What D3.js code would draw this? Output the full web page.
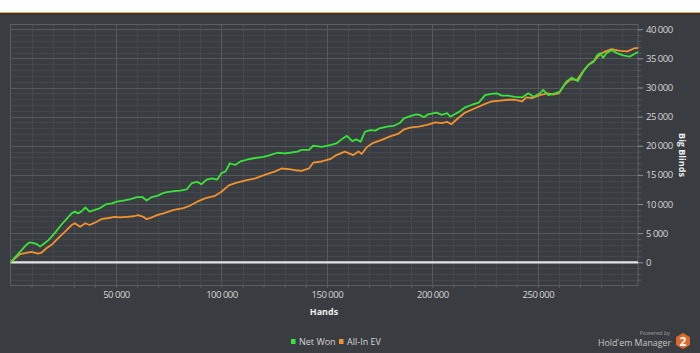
<!DOCTYPE html>
<html>
<head>
<meta charset="utf-8">
<script src="https://cdn.jsdelivr.net/npm/d3@7"></script>
<style>
  body { margin: 0; background: #ffffff; }
  svg { display: block; font-family: "Open Sans", sans-serif; }
</style>
</head>
<body>
<div id="container"></div>
<script>
// hands played / big blinds won
let netWonHands = [0, 4500, 7500, 9000, 11000, 12500, 14000, 15500, 18000, 21000, 24000, 26500, 29000, 30500, 32000, 33500, 35500, 37500, 40000, 42500, 45500, 48000, 50500, 53500, 56500, 60000, 62500, 64500, 67000, 69500, 72500, 75000, 77500, 80500, 83500, 86000, 88500, 90500, 93000, 95500, 98000, 100000, 102000, 104000, 106500, 109000, 112000, 116000, 120000, 123000, 126500, 130000, 132500, 136000, 138000, 141500, 143500, 147500, 151500, 154500, 157000, 159500, 162000, 164000, 166000, 168000, 170500, 173000, 175000, 178500, 181500, 184500, 186500, 189500, 192500, 194000, 196000, 198000, 202000, 204500, 207000, 208500, 211000, 213000, 215500, 218500, 222000, 225000, 228000, 230500, 233000, 236000, 239000, 242500, 245500, 248000, 251000, 252500, 255000, 258000, 260500, 263500, 266000, 267500, 269000, 271500, 274000, 276500, 278000, 279500, 281000, 282500, 285000, 287500, 290500, 293500, 296000, 297500];
let netWonBB = [0, 1800, 3000, 3400, 3300, 3100, 2700, 3100, 3800, 5000, 6400, 7400, 8400, 8700, 8400, 8700, 9400, 8700, 9000, 9300, 10000, 10100, 10400, 10600, 10800, 11200, 11200, 10600, 11200, 11400, 11900, 12100, 12200, 12300, 12500, 13600, 13800, 13400, 14200, 14400, 14200, 15300, 15600, 17000, 16700, 17300, 17600, 17900, 18100, 18400, 18800, 18700, 18800, 19000, 19300, 19300, 20000, 19800, 20100, 20400, 21100, 21700, 20800, 21100, 20700, 22400, 22700, 22600, 23000, 23300, 23400, 23900, 24700, 25100, 25400, 25300, 24900, 25400, 25700, 25300, 25600, 25000, 25500, 25900, 26600, 27000, 27400, 28700, 28900, 29000, 28600, 28600, 28400, 28300, 29000, 28400, 29000, 29600, 28700, 29000, 29300, 31000, 31700, 31400, 31100, 32700, 33900, 34400, 35500, 35900, 35100, 35900, 36400, 35900, 35500, 35300, 35800, 36100];

let allInHands = [0, 4500, 7500, 10000, 13000, 14500, 17000, 19500, 22500, 26000, 29000, 30500, 33000, 35500, 37500, 40000, 43000, 46500, 49500, 52000, 55000, 58500, 60500, 63000, 64500, 67000, 69500, 72500, 77500, 82000, 85000, 88500, 92500, 97000, 100000, 103500, 106500, 111000, 116000, 120500, 125500, 128500, 132000, 135000, 138000, 141500, 143500, 147500, 151500, 154500, 158500, 162500, 165000, 166500, 169000, 172000, 176000, 180000, 184000, 186500, 189500, 193500, 197500, 201500, 204500, 207000, 209000, 211500, 215500, 220000, 225000, 228000, 231000, 236000, 239000, 242500, 244500, 247500, 251000, 254500, 257500, 260000, 262500, 265500, 268500, 272500, 275000, 277000, 279500, 282000, 285000, 289000, 292500, 295500, 297500];
let allInBB = [0, 1400, 1600, 1800, 1500, 1600, 2400, 3000, 4100, 5300, 6400, 6700, 6100, 6700, 6400, 6800, 7400, 7600, 7800, 7700, 7800, 7900, 8100, 7800, 7400, 7700, 8100, 8400, 9000, 9300, 9700, 10400, 11000, 11400, 12100, 13200, 13600, 14000, 14400, 15000, 15600, 16100, 16000, 15800, 15700, 16100, 17100, 17300, 17700, 18400, 19000, 18400, 19000, 18600, 19800, 20500, 21000, 21600, 22100, 22800, 23100, 23300, 23600, 24000, 23900, 24100, 23700, 24500, 25700, 26400, 27200, 27600, 27700, 27900, 27900, 27600, 28300, 28200, 28700, 29000, 28800, 29000, 30400, 31400, 31300, 33300, 34200, 34700, 35700, 36200, 36600, 36300, 36200, 36700, 36800];

let xTicks = [50000, 100000, 150000, 200000, 250000];
let yTicks = [0, 5000, 10000, 15000, 20000, 25000, 30000, 35000, 40000];
let seriesNames = ["Net Won", "All-In EV"];
let seriesColors = ["#3ae33a", "#f2922e"];

let w = 700;
let h = 353;
let plotL = 10.5, plotR = 638, plotT = 24, plotB = 285;

let fmt = d3.formatLocale({decimal: ".", thousands: " ", grouping: [3], currency: ["", ""]}).format(",");

let viz = d3.select("#container")
  .append("svg")
    .attr("width", w)
    .attr("height", h)
;

// dark panel with orange top rule
viz.append("rect").attr("x", 0).attr("y", 12).attr("width", w).attr("height", h - 12).attr("fill", "#393c40");
viz.append("rect").attr("x", 0).attr("y", 12).attr("width", w).attr("height", 1.2).attr("fill", "#f0a14a");
viz.append("rect").attr("x", 0).attr("y", 13.2).attr("width", w).attr("height", 1.5).attr("fill", "#30353d");

let xScale = d3.scaleLinear().domain([0, 297500]).range([plotL, plotR]);
let yScale = d3.scaleLinear().domain([-3900, 40900]).range([plotB, plotT]);

// grid
let grid = viz.append("g");
grid.selectAll(".xminor").data(d3.range(10000, 297500, 10000)).enter()
  .append("line")
    .attr("x1", d => Math.round(xScale(d)) + 0.5).attr("x2", d => Math.round(xScale(d)) + 0.5)
    .attr("y1", plotT).attr("y2", plotB)
    .attr("stroke", "#45494e").attr("stroke-width", 1)
;
grid.selectAll(".yminor").data(d3.range(-3000, 41000, 1000)).enter()
  .append("line")
    .attr("x1", plotL).attr("x2", plotR)
    .attr("y1", d => Math.round(yScale(d)) + 0.5).attr("y2", d => Math.round(yScale(d)) + 0.5)
    .attr("stroke", "#43474c").attr("stroke-width", 1)
;
grid.selectAll(".xmajor").data(xTicks).enter()
  .append("line")
    .attr("x1", d => Math.round(xScale(d)) + 0.5).attr("x2", d => Math.round(xScale(d)) + 0.5)
    .attr("y1", plotT).attr("y2", plotB)
    .attr("stroke", "#55595e").attr("stroke-width", 1)
;
grid.selectAll(".ymajor").data(yTicks).enter()
  .append("line")
    .attr("x1", plotL).attr("x2", plotR)
    .attr("y1", d => Math.round(yScale(d)) + 0.5).attr("y2", d => Math.round(yScale(d)) + 0.5)
    .attr("stroke", "#55595e").attr("stroke-width", 1)
;
grid.append("rect")
    .attr("x", plotL).attr("y", plotT + 0.5)
    .attr("width", plotR - plotL).attr("height", plotB - plotT)
    .attr("fill", "none").attr("stroke", "#5a5e63")
;

// axes
let xAxis = viz.append("g")
    .attr("transform", "translate(0," + plotB + ")")
    .call(d3.axisBottom(xScale).tickValues(d3.range(10000, 297500, 10000)).tickSize(3).tickFormat(""))
;
xAxis.select(".domain").remove();
xAxis.selectAll("line").attr("stroke", "#5a5e63");

let xLabels = viz.append("g")
    .attr("transform", "translate(0," + plotB + ")")
    .call(d3.axisBottom(xScale).tickValues(xTicks).tickSize(0).tickPadding(6).tickFormat(fmt))
;
xLabels.select(".domain").remove();
xLabels.selectAll("text")
    .attr("fill", "#d6d6d6")
    .style("font-size", "9.5px")
    .style("letter-spacing", "-0.5px")
    .style("font-family", "'Open Sans', sans-serif")
;

let yMinor = viz.append("g")
    .attr("transform", "translate(" + plotR + ",0)")
    .call(d3.axisRight(yScale).tickValues(d3.range(-3000, 41000, 1000)).tickSize(3).tickFormat(""))
;
yMinor.select(".domain").remove();
yMinor.selectAll("line").attr("stroke", "#5a5e63");

let yAxis = viz.append("g")
    .attr("transform", "translate(" + plotR + ",0)")
    .call(d3.axisRight(yScale).tickValues(yTicks).tickSize(5).tickPadding(3).tickFormat(fmt))
;
yAxis.select(".domain").remove();
yAxis.selectAll("line").attr("stroke", "#8a8d91");
yAxis.selectAll("text")
    .attr("fill", "#d6d6d6")
    .style("font-size", "9.5px")
    .style("letter-spacing", "-0.5px")
    .style("font-family", "'Open Sans', sans-serif")
;

viz.append("text")
    .text("Hands")
    .attr("x", 324).attr("y", 315)
    .attr("text-anchor", "middle")
    .attr("fill", "#eeeeee")
    .style("font-size", "9px")
    .style("font-weight", "bold")
;

viz.append("text")
    .text("Big Blinds")
    .attr("text-anchor", "middle")
    .attr("transform", "translate(679,155) rotate(90)")
    .attr("fill", "#eeeeee")
    .style("font-size", "9px")
    .style("font-weight", "bold")
;

// zero line
viz.append("line")
    .attr("x1", plotL).attr("x2", plotR)
    .attr("y1", yScale(0)).attr("y2", yScale(0))
    .attr("stroke", "#e6e6e6").attr("stroke-width", 2.2)
;

// series
let lineGen = d3.line().x(d => xScale(d[0])).y(d => yScale(d[1]));
let allInPts = allInHands.map((d, i) => [d, allInBB[i]]);
let netWonPts = netWonHands.map((d, i) => [d, netWonBB[i]]);

viz.append("path")
    .attr("d", lineGen(allInPts))
    .attr("fill", "none")
    .attr("stroke", seriesColors[1])
    .attr("stroke-width", 1.8)
    .attr("stroke-linejoin", "round")
;
viz.append("path")
    .attr("d", lineGen(netWonPts))
    .attr("fill", "none")
    .attr("stroke", seriesColors[0])
    .attr("stroke-width", 1.8)
    .attr("stroke-linejoin", "round")
;

// legend
let legendX = [291, 339];
let legend = viz.selectAll(".legend").data(seriesNames).enter()
  .append("g")
    .attr("transform", (d, i) => "translate(" + legendX[i] + ",345)")
;
legend.append("rect")
    .attr("x", 0).attr("y", -6).attr("width", 4.5).attr("height", 5)
    .attr("fill", (d, i) => seriesColors[i])
;
legend.append("text")
    .text(d => d)
    .attr("x", 8).attr("y", 0)
    .attr("fill", "#d6d6d6")
    .style("font-size", "9px")
;

// branding
viz.append("text")
    .text("Powered by")
    .attr("x", 670).attr("y", 334.5)
    .attr("text-anchor", "end")
    .attr("fill", "#9a9da1")
    .style("font-size", "5.5px")
;
viz.append("text")
    .text("Hold'em Manager")
    .attr("x", 671).attr("y", 346)
    .attr("text-anchor", "end")
    .attr("fill", "#c8c8c8")
    .style("font-size", "8.8px")
;
let hex = d3.range(6).map(k => {
  let a = Math.PI / 3 * k + Math.PI / 6;
  return [683 + 8 * Math.cos(a), 341 + 8 * Math.sin(a)];
});
viz.append("polygon")
    .attr("points", hex.map(p => p.join(",")).join(" "))
    .attr("fill", "#e0692c")
;
viz.append("text")
    .text("2")
    .attr("x", 683).attr("y", 345.5)
    .attr("text-anchor", "middle")
    .attr("fill", "#ffffff")
    .style("font-size", "12px")
    .style("font-weight", "bold")
;
</script>
</body>
</html>
